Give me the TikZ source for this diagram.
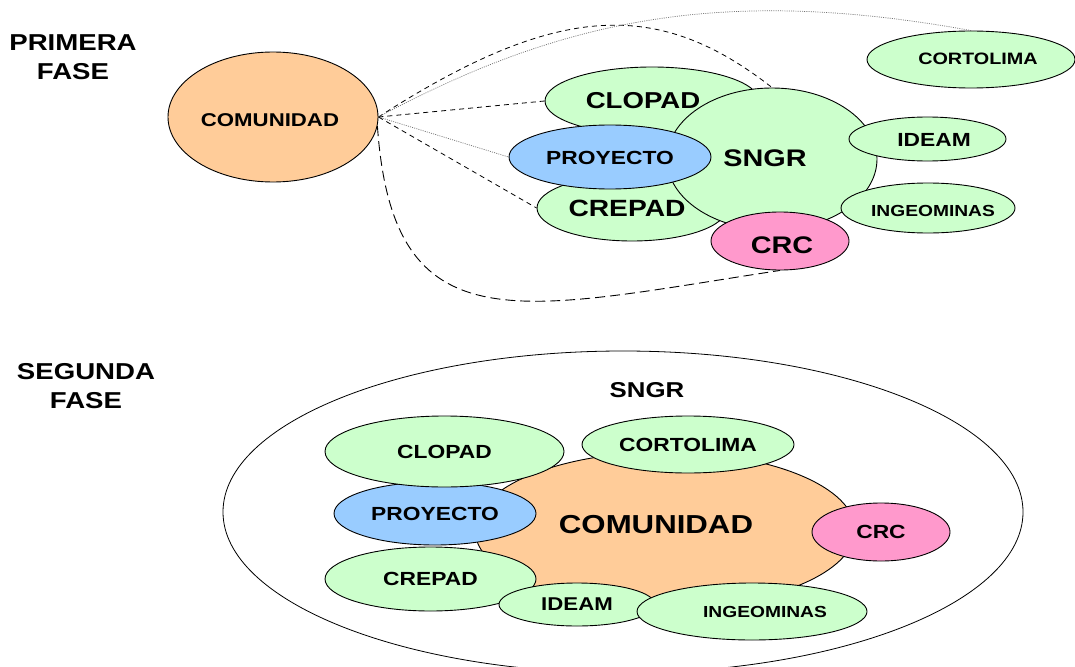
\documentclass[tikz,border=0pt]{standalone}
\usepackage{fontspec}
\setmainfont{Liberation Sans}[FakeStretch=1.2]
\usetikzlibrary{shapes.geometric}
\definecolor{bubblegreen}{RGB}{204,255,204}
\definecolor{bubblepeach}{RGB}{255,204,153}
\definecolor{bubbleblue}{RGB}{153,204,255}
\definecolor{bubblepink}{RGB}{255,153,204}
\tikzset{
    bubble/.style={
        ellipse,
        draw=black,
        line width=0.9pt,
        inner sep=0pt
    },
    greenbub/.style={bubble, fill=bubblegreen},
    peachbub/.style={bubble, fill=bubblepeach},
    bluebub/.style={bubble, fill=bubbleblue},
    pinkbub/.style={bubble, fill=bubblepink},
    txt/.style={
        font=\bfseries\fontsize{#1}{#1}\selectfont,
        inner sep=0pt
    },
    phase/.style={
        font=\bfseries\fontsize{23}{29}\selectfont,
        align=center,
        inner sep=0pt
    },
    dashlink/.style={
        draw=black,
        line width=0.8pt,
        dash pattern=on 5pt off 4pt
    },
    dotlink/.style={
        draw=black!55,
        line width=0.7pt,
        dash pattern=on 1pt off 1.2pt
    },
    longlink/.style={
        draw=black,
        line width=0.9pt,
        dash pattern=on 10pt off 5pt
    }
}
\begin{document}
\begin{tikzpicture}[x=1pt, y=-1pt]
\fill[white] (0,0) rectangle (1075,666);
\useasboundingbox (0,0) rectangle (1075,666);

% Primera fase
\node[phase] (fase1) at (73,57.5) {PRIMERA\\FASE};
\node[peachbub, minimum width=210pt, minimum height=130pt] (comu1) at (273,117) {};
\node[txt=18.5] (comu1txt) at (270,120) {COMUNIDAD};
\node[greenbub, minimum width=214pt, minimum height=68pt] (clopad1) at (652,101) {};
\node[greenbub, minimum width=190pt, minimum height=66pt] (crepad1) at (632,208) {};
\node[greenbub, minimum width=210pt, minimum height=142pt] (sngr1) at (772,159) {};
\node[bluebub, minimum width=202pt, minimum height=64pt] (proy1) at (610,157) {};
\node[pinkbub, minimum width=138pt, minimum height=58pt] (crc1) at (780,241) {};
\node[greenbub, minimum width=157pt, minimum height=44pt] (ideam1) at (927.5,139) {};
\node[greenbub, minimum width=174pt, minimum height=50pt] (ingeo1) at (928,208) {};
\node[greenbub, minimum width=208pt, minimum height=57pt] (corto1) at (971,59.5) {};
\node[txt=23] (clopad1txt) at (643,101) {CLOPAD};
\node[txt=23.5] (crepad1txt) at (627,208) {CREPAD};
\node[txt=24] (sngr1txt) at (765,158) {SNGR};
\node[txt=19] (proy1txt) at (610,157.5) {PROYECTO};
\node[txt=24] (crc1txt) at (782,245.5) {CRC};
\node[txt=19] (ideam1txt) at (934,140) {IDEAM};
\node[txt=16] (ingeo1txt) at (933,210.5) {INGEOMINAS};
\node[txt=16.5] (corto1txt) at (978,59) {CORTOLIMA};

\draw[dashlink] (comu1.east) -- (clopad1.west);
\draw[dotlink] (comu1.east) -- (proy1.west);
\draw[dashlink] (comu1.east) -- (crepad1.west);
\draw[dashlink] (comu1.east) .. controls (560,0) and (660,0) .. (sngr1.north);
\draw[dotlink] (comu1.east) .. controls (560,20) and (720,-15) .. (corto1.north);
\draw[longlink] (comu1.-5) .. controls (393,350) and (520,310) .. (crc1.south);

% Segunda fase
\node[phase] (fase2) at (86,386) {SEGUNDA\\FASE};
\node[bubble, line width=0.8pt, minimum width=800pt, minimum height=322pt] (sngr2) at (623,512) {};
\node[txt=21.5] (sngr2txt) at (647,390) {SNGR};
\node[peachbub, minimum width=380pt, minimum height=156pt] (comu2) at (665,530) {};
\node[txt=26] (comu2txt) at (656,524.5) {COMUNIDAD};
\node[bluebub, minimum width=202pt, minimum height=63pt, txt=19] (proy2) at (435,513.5) {PROYECTO};
\node[greenbub, minimum width=239pt, minimum height=71pt, txt=19] (clopad2) at (444.5,451.5) {CLOPAD};
\node[greenbub, minimum width=212pt, minimum height=57pt, txt=19] (corto2) at (688,444.5) {CORTOLIMA};
\node[greenbub, minimum width=211pt, minimum height=64pt, txt=19] (crepad2) at (430.5,579) {CREPAD};
\node[greenbub, minimum width=156pt, minimum height=43pt, txt=18.5] (ideam2) at (577,604.5) {IDEAM};
\node[greenbub, minimum width=230pt, minimum height=57pt] (ingeo2) at (752,611.5) {};
\node[txt=16] (ingeo2txt) at (765,611.5) {INGEOMINAS};
\node[pinkbub, minimum width=138pt, minimum height=58pt, txt=19] (crc2) at (881,532) {CRC};
\end{tikzpicture}
\end{document}
